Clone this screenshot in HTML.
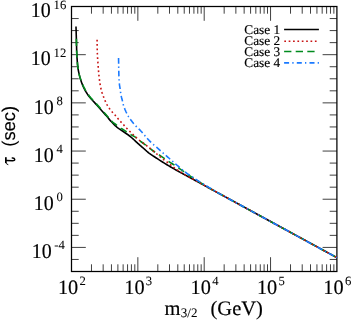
<!DOCTYPE html>
<html><head><meta charset="utf-8"><title>plot</title>
<style>
html,body{margin:0;padding:0;background:#fff;}
body{width:351px;height:320px;overflow:hidden;position:relative;font-family:"Liberation Serif",serif;}
</style></head><body>
<svg width="351" height="320" viewBox="0 0 351 320" style="position:absolute;left:0;top:0;filter:blur(0.35px)">
<rect x="0" y="0" width="351" height="320" fill="#fff"/>
<path d="M91.47,271.5 v-7.2 M91.47,6.5 v7.2 M103.16,271.5 v-7.2 M103.16,6.5 v7.2 M111.45,271.5 v-7.2 M111.45,6.5 v7.2 M117.88,271.5 v-7.2 M117.88,6.5 v7.2 M123.13,271.5 v-7.2 M123.13,6.5 v7.2 M127.57,271.5 v-7.2 M127.57,6.5 v7.2 M131.42,271.5 v-7.2 M131.42,6.5 v7.2 M134.81,271.5 v-7.2 M134.81,6.5 v7.2 M137.85,271.5 v-14.3 M137.85,6.5 v14.3 M157.82,271.5 v-7.2 M157.82,6.5 v7.2 M169.51,271.5 v-7.2 M169.51,6.5 v7.2 M177.80,271.5 v-7.2 M177.80,6.5 v7.2 M184.23,271.5 v-7.2 M184.23,6.5 v7.2 M189.48,271.5 v-7.2 M189.48,6.5 v7.2 M193.92,271.5 v-7.2 M193.92,6.5 v7.2 M197.77,271.5 v-7.2 M197.77,6.5 v7.2 M201.16,271.5 v-7.2 M201.16,6.5 v7.2 M204.20,271.5 v-14.3 M204.20,6.5 v14.3 M224.17,271.5 v-7.2 M224.17,6.5 v7.2 M235.86,271.5 v-7.2 M235.86,6.5 v7.2 M244.15,271.5 v-7.2 M244.15,6.5 v7.2 M250.58,271.5 v-7.2 M250.58,6.5 v7.2 M255.83,271.5 v-7.2 M255.83,6.5 v7.2 M260.27,271.5 v-7.2 M260.27,6.5 v7.2 M264.12,271.5 v-7.2 M264.12,6.5 v7.2 M267.51,271.5 v-7.2 M267.51,6.5 v7.2 M270.55,271.5 v-14.3 M270.55,6.5 v14.3 M290.52,271.5 v-7.2 M290.52,6.5 v7.2 M302.21,271.5 v-7.2 M302.21,6.5 v7.2 M310.50,271.5 v-7.2 M310.50,6.5 v7.2 M316.93,271.5 v-7.2 M316.93,6.5 v7.2 M322.18,271.5 v-7.2 M322.18,6.5 v7.2 M326.62,271.5 v-7.2 M326.62,6.5 v7.2 M330.47,271.5 v-7.2 M330.47,6.5 v7.2 M333.86,271.5 v-7.2 M333.86,6.5 v7.2 M71.5,18.55 h7.2 M336.9,18.55 h-7.2 M71.5,30.59 h7.2 M336.9,30.59 h-7.2 M71.5,42.64 h7.2 M336.9,42.64 h-7.2 M71.5,54.68 h14.3 M336.9,54.68 h-14.3 M71.5,66.73 h7.2 M336.9,66.73 h-7.2 M71.5,78.77 h7.2 M336.9,78.77 h-7.2 M71.5,90.82 h7.2 M336.9,90.82 h-7.2 M71.5,102.86 h14.3 M336.9,102.86 h-14.3 M71.5,114.91 h7.2 M336.9,114.91 h-7.2 M71.5,126.95 h7.2 M336.9,126.95 h-7.2 M71.5,139.00 h7.2 M336.9,139.00 h-7.2 M71.5,151.05 h14.3 M336.9,151.05 h-14.3 M71.5,163.09 h7.2 M336.9,163.09 h-7.2 M71.5,175.14 h7.2 M336.9,175.14 h-7.2 M71.5,187.18 h7.2 M336.9,187.18 h-7.2 M71.5,199.23 h14.3 M336.9,199.23 h-14.3 M71.5,211.27 h7.2 M336.9,211.27 h-7.2 M71.5,223.32 h7.2 M336.9,223.32 h-7.2 M71.5,235.36 h7.2 M336.9,235.36 h-7.2 M71.5,247.41 h14.3 M336.9,247.41 h-14.3 M71.5,259.45 h7.2 M336.9,259.45 h-7.2" stroke="#000" stroke-width="0.75" fill="none"/>
<rect x="71.5" y="6.5" width="265.4" height="265.0" fill="none" stroke="#000" stroke-width="1.25"/>
<g fill="none" stroke-width="1.6" stroke-linejoin="round">
<path d="M76.00,26.60 L76.04,27.91 L76.08,29.22 L76.12,30.53 L76.16,31.84 L76.20,33.15 L76.24,34.46 L76.28,35.77 L76.31,37.08 L76.35,38.39 L76.39,39.70 L76.43,41.01 L76.46,42.32 L76.49,43.63 L76.53,44.94 L76.56,46.25 L76.59,47.56 L76.62,48.87 L76.66,50.18 L76.70,51.49 L76.74,52.80 L76.80,54.11 L76.86,55.42 L76.95,56.73 L77.04,58.03 L77.14,59.34 L77.24,60.65 L77.34,61.96 L77.44,63.26 L77.56,64.57 L77.69,65.87 L77.85,67.17 L78.03,68.47 L78.25,69.76 L78.49,71.05 L78.75,72.34 L79.03,73.62 L79.32,74.89 L79.64,76.16 L79.98,77.43 L80.35,78.69 L80.75,79.94 L81.16,81.19 L81.59,82.42 L82.04,83.66 L82.52,84.88 L83.02,86.09 L83.56,87.29 L84.12,88.46 L84.72,89.62 L85.36,90.78 L86.02,91.92 L86.72,93.04 L87.43,94.14 L88.17,95.22 L88.93,96.28 L89.74,97.30 L90.59,98.29 L91.47,99.26 L92.38,100.22 L93.28,101.18 L94.18,102.14 L95.05,103.12 L95.92,104.10 L96.79,105.07 L97.66,106.05 L98.54,107.03 L99.41,108.01 L100.28,108.99 L101.15,109.97 L102.03,110.94 L102.90,111.92 L103.78,112.89 L104.65,113.87 L105.51,114.86 L106.37,115.85 L107.22,116.85 L108.05,117.86 L108.89,118.87 L109.73,119.87 L110.60,120.86 L111.48,121.82 L112.38,122.79 L113.28,123.74 L114.20,124.68 L115.15,125.59 L116.12,126.46 L117.12,127.28 L118.17,128.06 L119.25,128.82 L120.34,129.55 L121.43,130.29 L122.51,131.03 L123.59,131.77 L124.68,132.50 L125.77,133.23 L126.85,133.98 L127.92,134.73 L128.97,135.51 L130.01,136.31 L131.03,137.14 L132.01,138.00 L132.98,138.88 L133.96,139.76 L134.92,140.65 L135.88,141.54 L136.83,142.44 L137.80,143.33 L138.76,144.21 L139.75,145.08 L140.75,145.93 L141.75,146.77 L142.75,147.61 L143.74,148.48 L144.71,149.37 L145.67,150.26 L146.64,151.15 L147.63,152.00 L148.65,152.81 L149.71,153.58 L150.78,154.33 L151.87,155.07 L152.96,155.80 L154.05,156.53 L155.14,157.26 L156.24,157.97 L157.34,158.68 L158.44,159.39 L159.55,160.09 L160.65,160.80 L161.76,161.51 L162.86,162.21 L163.97,162.90 L165.09,163.59 L166.21,164.27 L167.33,164.95 L168.46,165.62 L169.58,166.29 L170.71,166.95 L171.84,167.61 L172.98,168.28 L174.11,168.93 L175.24,169.59 L176.38,170.23 L177.53,170.87 L178.68,171.50 L179.83,172.12 L180.99,172.74 L182.14,173.37 L183.29,173.99 L184.44,174.62 L185.59,175.25 L186.74,175.88 L187.89,176.51 L189.04,177.14 L190.19,177.77 L191.34,178.39 L192.49,179.01 L193.65,179.64 L194.80,180.26 L197.80,181.90 L267.35,219.77 L336.90,257.65" stroke="#000"/>
<path d="M76.40,38.80 L76.40,40.12 L76.42,41.43 L76.44,42.75 L76.46,44.07 L76.49,45.38 L76.53,46.70 L76.57,48.01 L76.61,49.33 L76.66,50.64 L76.71,51.96 L76.76,53.27 L76.82,54.58 L76.89,55.90 L76.98,57.21 L77.08,58.52 L77.18,59.84 L77.27,61.15 L77.38,62.46 L77.49,63.78 L77.61,65.09 L77.75,66.39 L77.92,67.69 L78.11,69.00 L78.34,70.30 L78.59,71.59 L78.86,72.88 L79.15,74.16 L79.46,75.44 L79.81,76.70 L80.21,77.96 L80.63,79.21 L81.08,80.45 L81.53,81.69 L82.00,82.91 L82.50,84.13 L83.03,85.35 L83.58,86.54 L84.16,87.72 L84.77,88.88 L85.40,90.04 L86.07,91.18 L86.75,92.31 L87.47,93.43 L88.21,94.52 L88.97,95.58 L89.76,96.62 L90.60,97.62 L91.49,98.59 L92.39,99.55 L93.31,100.50 L94.22,101.46 L95.11,102.44 L95.99,103.42 L96.86,104.40 L97.74,105.38 L98.61,106.37 L99.48,107.35 L100.36,108.33 L101.24,109.31 L102.12,110.28 L103.01,111.26 L103.90,112.23 L104.78,113.20 L105.67,114.18 L106.54,115.16 L107.40,116.16 L108.25,117.18 L109.09,118.20 L109.94,119.21 L110.81,120.19 L111.72,121.13 L112.67,122.02 L113.68,122.86 L114.72,123.68 L115.76,124.49 L116.81,125.29 L117.85,126.09 L118.91,126.88 L119.98,127.65 L121.07,128.37 L122.20,129.05 L123.34,129.71 L124.47,130.39 L125.57,131.11 L126.65,131.86 L127.72,132.63 L128.80,133.39 L129.89,134.12 L131.01,134.79 L132.19,135.40 L133.37,135.99 L134.52,136.63 L135.60,137.35 L136.65,138.14 L137.67,138.98 L138.68,139.83 L139.70,140.67 L140.74,141.48 L141.81,142.25 L142.88,143.01 L143.96,143.77 L145.01,144.56 L146.03,145.39 L147.03,146.24 L148.05,147.08 L149.08,147.89 L150.13,148.68 L151.19,149.46 L152.26,150.23 L153.33,151.00 L154.41,151.75 L155.49,152.50 L156.59,153.23 L157.69,153.95 L158.79,154.67 L159.89,155.39 L160.98,156.13 L162.07,156.87 L163.15,157.62 L164.23,158.37 L165.31,159.12 L166.40,159.86 L167.48,160.60 L168.57,161.34 L169.67,162.08 L170.77,162.80 L171.87,163.51 L172.98,164.22 L174.09,164.93 L175.19,165.65 L176.28,166.38 L177.37,167.12 L178.46,167.86 L179.55,168.60 L180.63,169.35 L181.70,170.11 L182.78,170.87 L183.85,171.64 L184.92,172.40 L185.98,173.17 L187.05,173.95 L188.11,174.72 L189.19,175.48 L190.27,176.22 L191.37,176.95 L192.47,177.67 L193.58,178.39 L194.68,179.10 L195.79,179.81 L196.90,180.51 L198.02,181.21 L199.13,181.91 L200.25,182.60 L201.37,183.29 L202.49,183.98 L203.62,184.66 L204.74,185.35 L205.87,186.02 L207.00,186.70 L210.00,188.54 L273.45,223.10 L336.90,257.65" stroke="#008b1e" stroke-dasharray="7.0943 4.5606"/>
<path d="M97.10,39.70 L97.10,40.90 L97.11,42.10 L97.12,43.30 L97.14,44.50 L97.16,45.70 L97.18,46.90 L97.20,48.10 L97.23,49.30 L97.26,50.50 L97.29,51.70 L97.33,52.90 L97.36,54.09 L97.41,55.29 L97.48,56.49 L97.56,57.69 L97.65,58.88 L97.74,60.08 L97.83,61.28 L97.91,62.48 L97.99,63.67 L98.07,64.87 L98.15,66.07 L98.23,67.26 L98.32,68.46 L98.41,69.66 L98.50,70.85 L98.61,72.05 L98.72,73.24 L98.84,74.44 L98.96,75.63 L99.10,76.82 L99.23,78.02 L99.38,79.21 L99.53,80.40 L99.68,81.59 L99.85,82.78 L100.04,83.96 L100.24,85.14 L100.46,86.32 L100.70,87.50 L100.97,88.67 L101.26,89.83 L101.57,90.99 L101.90,92.14 L102.27,93.29 L102.66,94.42 L103.06,95.55 L103.49,96.68 L103.91,97.80 L104.35,98.91 L104.81,100.03 L105.28,101.14 L105.78,102.23 L106.30,103.31 L106.85,104.37 L107.43,105.41 L108.05,106.45 L108.70,107.46 L109.38,108.46 L110.08,109.43 L110.80,110.37 L111.58,111.28 L112.39,112.17 L113.21,113.06 L114.02,113.94 L114.81,114.85 L115.59,115.76 L116.36,116.68 L117.13,117.60 L117.90,118.52 L118.67,119.45 L119.44,120.36 L120.24,121.26 L121.07,122.12 L121.92,122.98 L122.75,123.84 L123.56,124.72 L124.35,125.63 L125.13,126.54 L125.93,127.43 L126.75,128.31 L127.59,129.17 L128.43,130.02 L129.27,130.88 L130.11,131.74 L130.96,132.58 L131.82,133.42 L132.70,134.23 L133.60,135.03 L134.49,135.83 L135.37,136.65 L136.22,137.50 L137.07,138.35 L137.95,139.16 L138.87,139.92 L139.83,140.64 L140.80,141.36 L141.76,142.07 L142.73,142.78 L143.71,143.48 L144.68,144.18 L145.64,144.90 L146.59,145.63 L147.54,146.36 L148.48,147.11 L149.42,147.86 L150.34,148.62 L151.26,149.39 L152.19,150.16 L153.12,150.92 L154.05,151.68 L154.97,152.44 L155.89,153.21 L156.80,153.99 L157.71,154.77 L158.62,155.55 L159.54,156.33 L160.45,157.11 L161.37,157.88 L162.31,158.62 L163.28,159.33 L164.25,160.03 L165.22,160.74 L166.18,161.46 L167.14,162.19 L168.09,162.92 L169.03,163.66 L169.97,164.41 L170.90,165.17 L171.84,165.92 L172.79,166.65 L173.74,167.38 L174.70,168.09 L175.68,168.79 L176.68,169.45 L177.69,170.09 L178.71,170.73 L179.73,171.37 L180.75,172.00 L181.76,172.64 L182.78,173.28 L183.77,173.96 L184.75,174.66 L185.74,175.32 L186.78,175.92 L187.84,176.47 L188.93,176.98 L190.02,177.50 L191.09,178.05 L192.14,178.62 L193.18,179.21 L194.23,179.80 L195.28,180.38 L196.33,180.96 L197.38,181.54 L198.42,182.14 L199.45,182.75 L200.48,183.37 L201.50,184.00 L204.50,185.54 L270.70,221.60 L336.90,257.65" stroke="#c81414" stroke-dasharray="1.7081 2.6827"/>
<path d="M118.55,58.00 L118.57,59.09 L118.59,60.19 L118.61,61.28 L118.63,62.37 L118.65,63.47 L118.67,64.56 L118.69,65.65 L118.71,66.75 L118.73,67.84 L118.75,68.93 L118.77,70.03 L118.79,71.12 L118.81,72.21 L118.83,73.31 L118.86,74.40 L118.88,75.49 L118.92,76.59 L118.96,77.68 L119.02,78.77 L119.08,79.86 L119.15,80.96 L119.23,82.05 L119.32,83.14 L119.42,84.22 L119.55,85.31 L119.72,86.39 L119.90,87.47 L120.07,88.55 L120.23,89.63 L120.38,90.72 L120.52,91.80 L120.67,92.89 L120.84,93.97 L121.02,95.04 L121.22,96.12 L121.47,97.18 L121.75,98.24 L122.02,99.30 L122.29,100.36 L122.53,101.43 L122.77,102.50 L123.02,103.56 L123.29,104.62 L123.60,105.66 L123.94,106.70 L124.31,107.74 L124.70,108.76 L125.11,109.78 L125.54,110.78 L125.98,111.78 L126.45,112.77 L126.94,113.75 L127.45,114.72 L127.98,115.68 L128.53,116.62 L129.11,117.54 L129.72,118.45 L130.35,119.35 L131.01,120.23 L131.67,121.10 L132.34,121.96 L133.03,122.81 L133.73,123.65 L134.45,124.48 L135.18,125.29 L135.92,126.10 L136.67,126.89 L137.45,127.65 L138.25,128.41 L139.04,129.16 L139.83,129.92 L140.59,130.70 L141.33,131.50 L142.05,132.33 L142.76,133.16 L143.47,133.99 L144.18,134.82 L144.90,135.65 L145.62,136.48 L146.33,137.31 L147.04,138.14 L147.76,138.96 L148.50,139.77 L149.25,140.56 L150.02,141.33 L150.81,142.09 L151.60,142.84 L152.41,143.59 L153.22,144.32 L154.03,145.05 L154.85,145.77 L155.68,146.49 L156.51,147.20 L157.34,147.92 L158.16,148.64 L158.98,149.36 L159.80,150.09 L160.62,150.81 L161.43,151.54 L162.25,152.26 L163.07,152.99 L163.90,153.71 L164.72,154.43 L165.54,155.15 L166.37,155.86 L167.20,156.58 L168.02,157.30 L168.85,158.01 L169.67,158.73 L170.50,159.45 L171.32,160.17 L172.14,160.89 L172.96,161.62 L173.77,162.35 L174.59,163.07 L175.41,163.80 L176.23,164.52 L177.05,165.24 L177.88,165.96 L178.71,166.67 L179.54,167.39 L180.36,168.10 L181.20,168.81 L182.03,169.52 L182.87,170.22 L183.72,170.91 L184.58,171.58 L185.45,172.25 L186.33,172.90 L187.22,173.53 L188.11,174.16 L189.02,174.76 L189.94,175.36 L190.86,175.96 L191.77,176.55 L192.69,177.16 L193.59,177.77 L194.50,178.38 L195.40,179.00 L196.30,179.61 L197.22,180.22 L198.13,180.81 L199.06,181.40 L199.99,181.97 L200.92,182.54 L201.86,183.10 L202.80,183.67 L203.73,184.23 L204.67,184.80 L205.60,185.37 L206.54,185.94 L207.47,186.51 L208.40,187.08 L209.33,187.65 L210.27,188.22 L211.20,188.79 L212.13,189.36 L213.07,189.93 L214.00,190.50 L217.00,192.35 L276.95,225.00 L336.90,257.65" stroke="#1a7aff" stroke-dasharray="5.7026 2.8021 1.3765 2.8021"/>
<path d="M284.1,29.5 H318.9" stroke="#000"/>
<path d="M284.3,41.2 H318.9" stroke="#c81414" stroke-dasharray="1.7 2.67"/>
<path d="M284.1,51.5 H318.9" stroke="#008b1e" stroke-dasharray="7.3 4.3"/>
<path d="M284.1,62.9 H318.9" stroke="#1a7aff" stroke-dasharray="5 3.2 1.3 3.2"/>
</g>
<g font-family="'Liberation Serif', serif" fill="#000" stroke="#000" stroke-width="0.16" text-rendering="geometricPrecision">
<text transform="translate(30.70,17.30) scale(0.95,1)" font-size="21">10</text><text x="53.60" y="8.50" font-size="12.7" stroke-width="0.05">16</text>
<text transform="translate(30.70,65.48) scale(0.95,1)" font-size="21">10</text><text x="53.60" y="56.68" font-size="12.7" stroke-width="0.05">12</text>
<text transform="translate(33.70,113.66) scale(0.95,1)" font-size="21">10</text><text x="56.60" y="104.86" font-size="12.7" stroke-width="0.05">8</text>
<text transform="translate(33.70,161.85) scale(0.95,1)" font-size="21">10</text><text x="56.60" y="153.05" font-size="12.7" stroke-width="0.05">4</text>
<text transform="translate(33.70,210.03) scale(0.95,1)" font-size="21">10</text><text x="56.60" y="201.23" font-size="12.7" stroke-width="0.05">0</text>
<text transform="translate(31.80,258.21) scale(0.95,1)" font-size="21">10</text><text x="54.30" y="249.41" font-size="12.7" stroke-width="0.05">-4</text>
<text transform="translate(57.90,294.00) scale(0.99,1)" font-size="20.5">10</text><text x="79.50" y="284.50" font-size="12.7" stroke-width="0.05">2</text>
<text transform="translate(124.25,294.00) scale(0.99,1)" font-size="20.5">10</text><text x="145.85" y="284.50" font-size="12.7" stroke-width="0.05">3</text>
<text transform="translate(190.60,294.00) scale(0.99,1)" font-size="20.5">10</text><text x="212.20" y="284.50" font-size="12.7" stroke-width="0.05">4</text>
<text transform="translate(256.95,294.00) scale(0.99,1)" font-size="20.5">10</text><text x="278.55" y="284.50" font-size="12.7" stroke-width="0.05">5</text>
<text transform="translate(323.30,294.00) scale(0.99,1)" font-size="20.5">10</text><text x="344.90" y="284.50" font-size="12.7" stroke-width="0.05">6</text>
<text x="164.6" y="314.8" font-size="20.5">m</text>
<text x="180.8" y="317.2" font-size="13" stroke-width="0.05">3/2</text>
<text x="210.5" y="314.8" font-size="20.5">(GeV)</text>
<text x="244.3" y="33.5" font-size="13.3">Case 1</text>
<text x="244.3" y="44.8" font-size="13.3">Case 2</text>
<text x="244.3" y="56.0" font-size="13.3">Case 3</text>
<text x="244.3" y="67.3" font-size="13.3">Case 4</text>
<path d="M5.85,163.0 L5.85,157.2" fill="none" stroke="#000" stroke-width="1.75" stroke-linecap="butt"/>
<path d="M7.9,164.6 Q6.2,164.2 5.6,162.6" fill="none" stroke="#000" stroke-width="1.0" stroke-linecap="round"/>
<path d="M6.5,160.55 L12.4,160.8 Q14.9,160.9 14.7,159.3 Q14.4,157.7 12.3,157.9" fill="none" stroke="#000" stroke-width="1.5" stroke-linecap="round"/>
<text transform="translate(14.9,146.7) rotate(-90)" font-size="18.4" stroke="#000" stroke-width="0.12" font-family="'Liberation Sans', sans-serif">(sec)</text>
</g>
</svg>
</body></html>
